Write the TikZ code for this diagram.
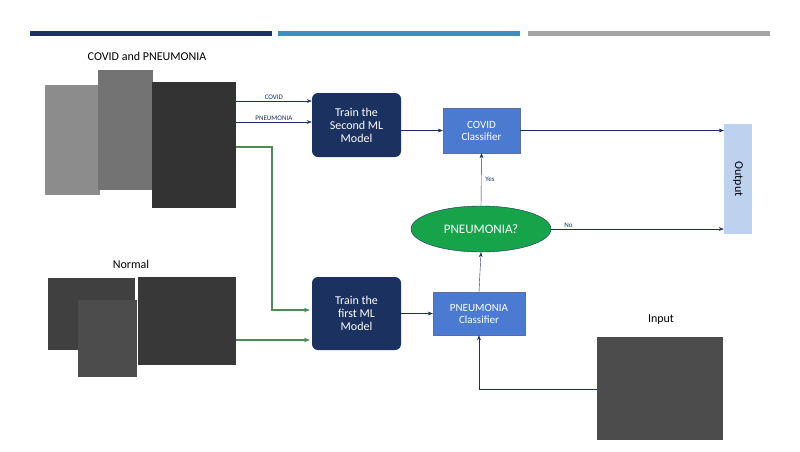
\documentclass[tikz,border=0pt]{standalone}
\usepackage{fontspec}
\setmainfont{Carlito}
\usetikzlibrary{shapes.geometric,arrows.meta}
\definecolor{navy}{HTML}{1B3160}
\definecolor{mblue}{HTML}{4A7BD0}
\definecolor{bar2}{HTML}{3E8DBF}
\definecolor{bar3}{HTML}{A5A5A5}
\definecolor{gfill}{HTML}{17A34A}
\definecolor{gline}{HTML}{4E8B57}
\definecolor{outc}{HTML}{BDD2EE}
\tikzset{
 dark/.style={draw=none,fill=navy,rounded corners=6pt,text=white,align=center,font=\fontsize{12}{13}\selectfont,minimum width=89pt,minimum height=64pt},
 cls/.style={draw=navy!70,fill=mblue,text=white,align=center,font=\fontsize{11}{12}\selectfont},
 arr/.style={-{Stealth[length=5pt]},navy,thin},
 garr/.style={-{Stealth[length=6pt]},gline,line width=2pt},
 xray/.style={draw=white,line width=1pt,fill=black!80,inner sep=0},
 lbl/.style={font=\fontsize{7}{8}\selectfont,inner sep=1pt}
}
\begin{document}
\begin{tikzpicture}[x=1pt,y=-1pt]
\useasboundingbox (0,0) rectangle (800,451);
\fill[navy] (30,31) rectangle (272,36);
\fill[bar2] (278,31) rectangle (520,36);
\fill[bar3] (528,31) rectangle (770,36);
\node[font=\fontsize{12}{13}\selectfont] (t1) at (147,56) {COVID and PNEUMONIA};
\node[font=\fontsize{12}{13}\selectfont] (t2) at (131,264) {Normal};
\node[font=\fontsize{12}{13}\selectfont] (t3) at (661,320) {Input};
% images
\fill[black!45] (45,85) rectangle (100,195);
\fill[black!55] (98,70) rectangle (153,190);
\fill[black!80] (152,82) rectangle (236,208);
\fill[black!75] (48,278) rectangle (135,350);
\fill[black!70] (78,300) rectangle (137,377);
\fill[black!78] (138,277) rectangle (236,365);
\fill[black!70] (597,337) rectangle (723,440);
\coordinate (imgA) at (236,101);
\coordinate (imgB) at (236,122);
\coordinate (imgC) at (236,147);
\coordinate (imgN) at (236,340);
\coordinate (imgI) at (597,389);
\node[dark] (m2) at (356.5,125) {Train the\\Second ML\\Model};
\node[dark,minimum height=73pt] (m1) at (356.5,313.5) {Train the\\first ML\\Model};
\node[cls,minimum width=77pt,minimum height=45pt] (cc) at (481.5,130.5) {COVID\\Classifier};
\node[cls,minimum width=92pt,minimum height=43pt] (pc) at (479,313.5) {PNEUMONIA\\Classifier};
\node[ellipse,draw=navy,fill=gfill,text=white,minimum width=140pt,minimum height=46pt,font=\fontsize{13}{14}\selectfont] (pq) at (481,229) {PNEUMONIA?};
\node[fill=outc,minimum width=28pt,minimum height=110pt] (out) at (738,179) {};
\node[rotate=-90,font=\fontsize{12}{13}\selectfont] at (out) {Output};
\draw[arr] (imgA) -- node[lbl,above]{COVID} (imgA -| m2.west);
\draw[arr] (imgB) -- node[lbl,above]{PNEUMONIA} (imgB -| m2.west);
\draw[arr] (m2.east |- cc) -- (cc.west);
\draw[arr] (cc.east) -- (cc -| out.west);
\draw[arr] (pq.north) -- node[lbl,right,pos=0.5,xshift=3pt]{Yes} (cc.south);
\draw[arr] (pq.east) -- node[lbl,above,pos=0.1]{No} (pq -| out.west);
\draw[arr] (pc.north) -- (pq.south);
\draw[arr] (m1.east |- pc) -- (pc.west);
\draw[arr] (imgI) -| (pc.south);
\draw[garr] (imgC) -| (272,310) -- (310,310);
\draw[garr] (imgN) -- (310,340);
\end{tikzpicture}
\end{document}
